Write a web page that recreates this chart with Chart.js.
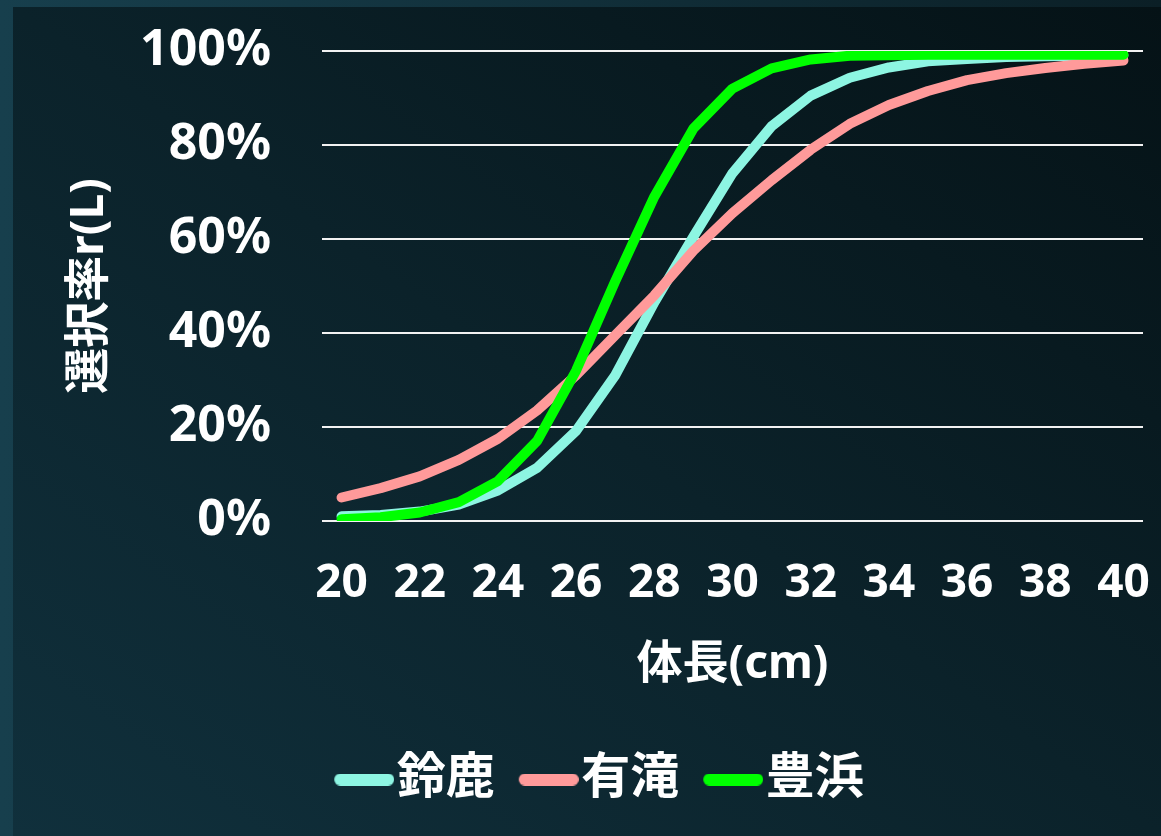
<!DOCTYPE html>
<html lang="ja">
<head>
<meta charset="UTF-8">
<title>選択率曲線</title>
<script src="https://cdn.jsdelivr.net/npm/chart.js"></script>
<style>
    html, body {
        margin: 0;
        padding: 0;
        width: 1161px;
        height: 836px;
        overflow: hidden;
        background: linear-gradient(to right, #173f4d, #0b1f26);
    }

    #panel {
        position: absolute;
        left: 13px;
        top: 7px;
        width: 1148px;
        height: 829px;
        background: linear-gradient(to top right, #10303c 0%, #0b222a 50%, #051216 100%);
    }
</style>
</head>
<body>

<div id="panel">
    <canvas id="selChart"></canvas>
</div>

<script>
    // 体長(cm)
    const bodyLength = [20, 21, 22, 23, 24, 25, 26, 27, 28, 29, 30, 31, 32, 33, 34, 35, 36, 37, 38, 39, 40];
    const xTickLabels = ['20', '22', '24', '26', '28', '30', '32', '34', '36', '38', '40'];

    // 選択率 r(L) in %
    const suzuka = [1.0, 1.3, 2.0, 3.5, 6.5, 11.3, 19.2, 31, 46.5, 60.5, 74, 84, 90.5, 94.3, 96.5, 97.8, 98.3, 98.7, 98.9, 99.0, 99.1];
    const aritaki = [5, 7, 9.5, 13, 17.5, 23.5, 31, 39.5, 48, 57.5, 65.5, 72.5, 79, 84.5, 88.5, 91.5, 93.8, 95.3, 96.4, 97.3, 98];
    const toyohama = [0.4, 0.8, 1.8, 4, 8.5, 17, 32, 51, 69, 83.5, 92, 96.3, 98.2, 99, 99.1, 99.2, 99.2, 99.2, 99.2, 99.2, 99.2];

    const seriesNames = ['鈴鹿', '有滝', '豊浜'];
    const seriesColors = ['#8df5e2', '#ff9a9a', '#00ff00'];

    const FONT = '"Noto Sans", "Noto Sans CJK JP", sans-serif';

    // short rounded bar used as the legend swatch, sitting at the right of a wider canvas
    function makeSwatch(color) {
        const c = document.createElement('canvas');
        c.width = 82;
        c.height = 12;
        const g = c.getContext('2d');
        g.fillStyle = color;
        g.beginPath();
        g.roundRect(22, 0, 60, 12, 6);
        g.fill();
        return c;
    }
    const swatches = seriesColors.map(makeSwatch);

    function lineSet(i, data, order) {
        return {
            label: seriesNames[i],
            data: data,
            borderColor: seriesColors[i],
            backgroundColor: seriesColors[i],
            borderWidth: 10,
            borderCapStyle: 'round',
            borderJoinStyle: 'round',
            pointRadius: 0,
            tension: 0,
            fill: false,
            order: order
        };
    }

    new Chart(document.getElementById('selChart'), {
        type: 'line',
        data: {
            labels: bodyLength,
            datasets: [
                lineSet(0, suzuka, 3),
                lineSet(1, aritaki, 2),
                lineSet(2, toyohama, 1)
            ]
        },
        options: {
            responsive: true,
            maintainAspectRatio: false,
            animation: false,
            layout: {
                padding: { left: 42, right: 18, top: 44, bottom: 22 }
            },
            plugins: {
                tooltip: { enabled: false },
                legend: {
                    position: 'bottom',
                    labels: {
                        color: '#ffffff',
                        font: { family: FONT, size: 49, weight: 'bold' },
                        usePointStyle: true,
                        pointStyleWidth: 38,
                        padding: 24,
                        generateLabels: (chart) => chart.data.datasets.map((ds, i) => ({
                            text: ds.label,
                            fillStyle: ds.borderColor,
                            strokeStyle: ds.borderColor,
                            lineWidth: 0,
                            pointStyle: swatches[i],
                            fontColor: '#ffffff',
                            hidden: false,
                            datasetIndex: i
                        }))
                    }
                }
            },
            scales: {
                x: {
                    type: 'category',
                    offset: true,
                    grid: { display: false, drawTicks: true, tickLength: 35, tickColor: 'transparent' },
                    border: { display: false },
                    ticks: {
                        autoSkip: false,
                        maxRotation: 0,
                        padding: 0,
                        color: '#ffffff',
                        font: { family: FONT, size: 46, weight: 'bold' },
                        callback: (v, i) => (i % 2 === 0 ? xTickLabels[i / 2] : '')
                    },
                    title: {
                        display: true,
                        text: '体長(cm)',
                        color: '#ffffff',
                        font: { family: FONT, size: 46, weight: 'bold' },
                        padding: { top: 0, bottom: 39 }
                    },
                    afterFit: (scale) => { scale.height = 210; }
                },
                y: {
                    min: 0,
                    max: 100,
                    grid: {
                        color: '#f2f2f2',
                        lineWidth: 2,
                        drawTicks: true,
                        tickLength: 51,
                        tickColor: 'transparent'
                    },
                    border: { display: false },
                    ticks: {
                        stepSize: 20,
                        padding: 0,
                        color: '#ffffff',
                        font: { family: FONT, size: 50, weight: 'bold' },
                        callback: (v) => v + '%'
                    },
                    title: {
                        display: true,
                        text: '選択率r(L)',
                        color: '#ffffff',
                        font: { family: FONT, size: 46, weight: 'bold' },
                        padding: { top: 7, bottom: 0 }
                    },
                    afterFit: (scale) => { scale.width = 267; }
                }
            }
        }
    });
</script>

</body>
</html>
